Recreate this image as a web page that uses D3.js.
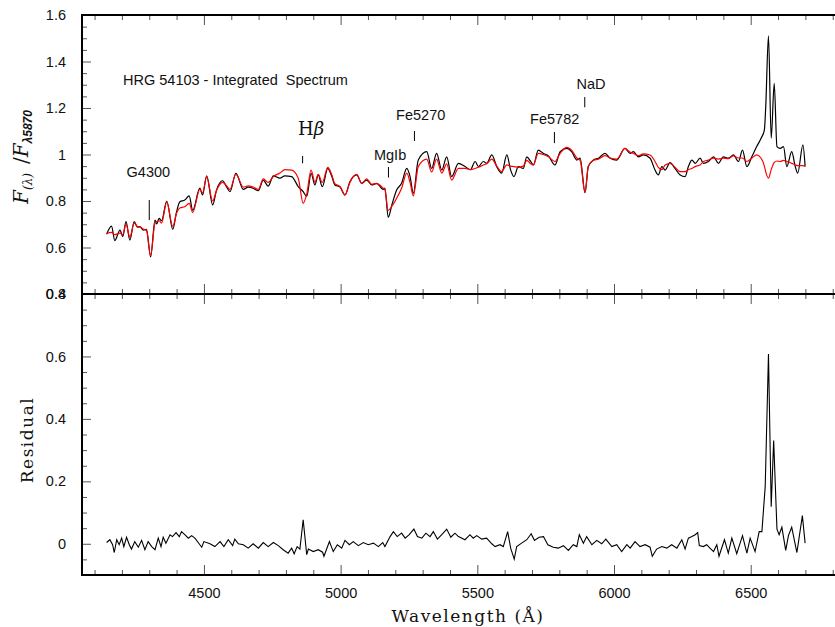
<!DOCTYPE html>
<html>
<head>
<meta charset="utf-8">
<script src="https://cdn.jsdelivr.net/npm/d3@7"></script>
<style>
  body { margin: 0; background: #fff; }
  text { font-family: "Liberation Sans", Arial, sans-serif; fill: #111; }
</style>
</head>
<body>
<svg id="chart"></svg>
<script>
// wavelengths (A) of the points
const waveUpper = [4144, 4162, 4174, 4193, 4203, 4215, 4229, 4245, 4257, 4266, 4278, 4290, 4305, 4321, 4327, 4336, 4345, 4364, 4386, 4400,
  4412, 4430, 4446, 4459, 4485, 4495, 4510, 4532, 4546, 4568, 4583, 4595, 4617, 4644, 4662, 4680, 4699, 4717, 4735, 4754,
  4778, 4796, 4821, 4845, 4863, 4876, 4892, 4906, 4918, 4933, 4953, 4967, 4979, 4998, 5016, 5034, 5059, 5077, 5095, 5114,
  5132, 5156, 5162, 5174, 5189, 5205, 5223, 5242, 5254, 5266, 5284, 5315, 5333, 5351, 5370, 5388, 5406, 5431, 5455, 5475,
  5492, 5504, 5522, 5534, 5553, 5571, 5589, 5608, 5622, 5634, 5650, 5668, 5681, 5695, 5705, 5723, 5741, 5760, 5784, 5803,
  5827, 5845, 5864, 5876, 5894, 5906, 5925, 5943, 5967, 5986, 6010, 6040, 6059, 6071, 6089, 6107, 6132, 6150, 6162, 6175,
  6187, 6205, 6223, 6242, 6260, 6272, 6285, 6297, 6315, 6327, 6345, 6364, 6382, 6400, 6418, 6437, 6455, 6470, 6486, 6504,
  6522, 6538, 6550, 6555, 6565, 6575, 6586, 6596, 6608, 6620, 6632, 6650, 6663, 6672, 6691, 6699];

// observed spectrum (black)
const obsFlux = [0.657, 0.692, 0.630, 0.675, 0.647, 0.711, 0.632, 0.711, 0.687, 0.690, 0.675, 0.678, 0.560, 0.718, 0.701, 0.725, 0.715, 0.800, 0.678, 0.754,
  0.797, 0.804, 0.822, 0.760, 0.855, 0.826, 0.908, 0.783, 0.847, 0.887, 0.861, 0.840, 0.919, 0.850, 0.860, 0.855, 0.844, 0.890, 0.864, 0.908,
  0.898, 0.908, 0.905, 0.862, 0.840, 0.820, 0.919, 0.869, 0.912, 0.862, 0.940, 0.908, 0.869, 0.860, 0.826, 0.883, 0.912, 0.876, 0.890, 0.869,
  0.876, 0.850, 0.855, 0.730, 0.790, 0.847, 0.876, 0.940, 0.905, 0.833, 0.976, 1.012, 0.940, 1.005, 0.933, 0.990, 0.905, 0.962, 0.948, 0.935,
  0.970, 0.948, 0.970, 0.962, 0.998, 0.948, 0.920, 0.998, 0.933, 0.905, 0.948, 0.940, 0.990, 0.970, 0.955, 1.019, 1.005, 0.994, 0.955, 1.012,
  1.026, 1.012, 0.976, 0.984, 0.836, 0.948, 0.976, 0.984, 1.005, 0.984, 0.976, 1.026, 1.005, 1.012, 0.990, 0.998, 0.984, 0.933, 0.912, 0.948,
  0.933, 0.965, 0.940, 0.912, 0.905, 0.948, 0.976, 0.962, 0.984, 0.962, 0.970, 0.990, 0.962, 0.990, 0.984, 0.998, 0.970, 1.019, 0.948, 0.990,
  1.034, 1.070, 1.105, 1.206, 1.510, 1.070, 1.306, 1.034, 1.026, 1.034, 0.948, 1.012, 0.948, 0.920, 1.041, 0.948];

// model spectrum (red)
const modelFlux = [0.660, 0.665, 0.655, 0.662, 0.655, 0.700, 0.645, 0.705, 0.690, 0.688, 0.680, 0.672, 0.565, 0.705, 0.712, 0.715, 0.705, 0.795, 0.690, 0.748,
  0.770, 0.775, 0.790, 0.750, 0.850, 0.835, 0.905, 0.800, 0.845, 0.880, 0.865, 0.850, 0.915, 0.860, 0.865, 0.860, 0.850, 0.895, 0.880, 0.905,
  0.920, 0.935, 0.933, 0.898, 0.790, 0.830, 0.933, 0.880, 0.915, 0.880, 0.945, 0.915, 0.875, 0.862, 0.826, 0.880, 0.915, 0.875, 0.895, 0.872,
  0.875, 0.855, 0.848, 0.760, 0.780, 0.812, 0.855, 0.920, 0.880, 0.822, 0.948, 0.980, 0.925, 0.980, 0.920, 0.960, 0.890, 0.940, 0.940, 0.935,
  0.940, 0.945, 0.955, 0.960, 0.980, 0.950, 0.926, 0.955, 0.950, 0.948, 0.945, 0.950, 0.975, 0.960, 0.955, 1.005, 1.000, 0.990, 0.970, 1.005,
  1.031, 1.019, 0.985, 0.975, 0.836, 0.950, 0.975, 0.980, 0.995, 0.985, 0.980, 1.026, 1.010, 1.005, 0.995, 1.003, 0.998, 0.970, 0.945, 0.935,
  0.955, 0.962, 0.945, 0.926, 0.926, 0.935, 0.940, 0.948, 0.955, 0.970, 0.976, 0.984, 0.980, 0.984, 0.982, 0.994, 0.985, 0.985, 0.970, 0.984,
  0.998, 0.984, 0.950, 0.925, 0.898, 0.935, 0.965, 0.972, 0.970, 0.975, 0.970, 0.962, 0.955, 0.952, 0.952, 0.950];

// residual (lower panel)
const waveResid = [4144, 4156, 4166, 4172, 4181, 4190, 4199, 4207, 4217, 4227, 4235, 4247, 4260, 4272, 4284, 4296, 4309, 4321, 4333, 4343,
  4351, 4361, 4376, 4385, 4398, 4410, 4418, 4430, 4443, 4455, 4467, 4479, 4492, 4500, 4522, 4540, 4559, 4573, 4589, 4605,
  4613, 4626, 4644, 4662, 4680, 4699, 4717, 4735, 4754, 4772, 4790, 4808, 4821, 4830, 4841, 4851, 4863, 4876, 4882, 4900,
  4918, 4934, 4939, 4959, 4973, 4988, 5004, 5016, 5032, 5046, 5065, 5083, 5101, 5120, 5138, 5154, 5162, 5181, 5193, 5207,
  5223, 5236, 5251, 5268, 5281, 5297, 5312, 5327, 5339, 5354, 5370, 5388, 5403, 5418, 5431, 5455, 5473, 5485, 5498, 5516,
  5534, 5553, 5565, 5583, 5595, 5611, 5622, 5635, 5644, 5662, 5681, 5697, 5709, 5726, 5742, 5758, 5778, 5796, 5815, 5833,
  5851, 5864, 5873, 5888, 5900, 5919, 5937, 5955, 5970, 5992, 6010, 6028, 6047, 6059, 6077, 6095, 6114, 6132, 6140, 6156,
  6175, 6193, 6211, 6230, 6248, 6260, 6272, 6285, 6297, 6306, 6312, 6327, 6339, 6351, 6364, 6376, 6384, 6404, 6418, 6431,
  6449, 6470, 6486, 6498, 6516, 6531, 6541, 6553, 6565, 6575, 6584, 6596, 6604, 6614, 6628, 6638, 6650, 6669, 6689, 6699];
const residFlux = [0.004, 0.013, -0.003, -0.028, 0.013, -0.003, 0.018, -0.009, 0.021, -0.003, -0.017, 0.007, -0.011, 0.011, -0.019, 0.007, -0.009, -0.019, 0.018, -0.009,
  0.021, 0.002, 0.029, 0.023, 0.036, 0.023, 0.039, 0.029, 0.018, 0.026, 0.018, 0.004, -0.011, 0.007, 0.000, -0.009, 0.007, -0.009, 0.013, -0.006,
  0.015, 0.000, -0.003, -0.014, 0.000, -0.014, 0.004, -0.009, 0.004, -0.006, -0.019, -0.030, -0.014, -0.032, -0.009, -0.017, 0.077, -0.035, -0.017, -0.025,
  -0.019, -0.027, -0.040, 0.007, -0.025, -0.003, -0.014, 0.011, -0.003, 0.007, -0.006, 0.004, -0.003, 0.002, -0.009, 0.004, -0.009, 0.023, 0.039, 0.023,
  0.034, 0.018, 0.029, 0.047, 0.023, 0.018, 0.034, 0.023, 0.039, 0.015, 0.029, 0.047, 0.021, 0.034, 0.023, 0.013, 0.029, 0.018, 0.026, 0.015,
  0.018, 0.000, -0.009, -0.003, -0.009, 0.039, -0.014, -0.049, -0.009, 0.002, 0.013, 0.032, 0.011, 0.021, 0.023, -0.003, -0.011, -0.014, -0.006, -0.021,
  -0.003, -0.009, 0.029, 0.002, 0.023, -0.003, 0.011, 0.000, 0.015, -0.009, -0.003, -0.025, -0.003, -0.014, 0.007, -0.009, -0.003, -0.011, -0.040, -0.017,
  -0.009, -0.014, -0.003, -0.014, 0.013, -0.017, 0.018, 0.023, 0.029, 0.036, -0.006, -0.009, -0.003, -0.014, -0.025, -0.003, -0.040, 0.013, -0.030, 0.018,
  -0.032, 0.026, -0.030, 0.018, -0.025, 0.039, 0.039, 0.183, 0.608, 0.119, 0.331, 0.047, 0.029, 0.053, -0.021, 0.026, 0.053, -0.028, 0.090, 0.002];

// index lines: name, line wavelength, marker flux range, label position (wavelength, flux)
const lineNames = ['G4300', 'Hβ', 'MgIb', 'Fe5270', 'Fe5782', 'NaD'];
const lineWave = [4300, 4861, 5175, 5270, 5782, 5893];
const markerLow = [0.718, 0.962, 0.901, 1.058, 1.049, 1.203];
const markerHigh = [0.804, 0.994, 0.946, 1.101, 1.097, 1.247];
const labelWave = [4217, 4844, 5122, 5203, 5693, 5863];
const labelFlux = [0.903, 1.084, 0.978, 1.148, 1.131, 1.280];

const upperTicks = [0.4, 0.6, 0.8, 1, 1.2, 1.4, 1.6];
const lowerTicks = [0, 0.2, 0.4, 0.6, 0.8];
const xTickValues = [4500, 5000, 5500, 6000, 6500];

const width = 835, height = 627;
const padLeft = 82, padRight = 836, yTopEdge = 15, yMid = 294, yBottomEdge = 575;

const svg = d3.select('#chart').attr('width', width).attr('height', height);
svg.append('rect').attr('width', width).attr('height', height).attr('fill', '#fff');

const x = d3.scaleLinear().domain([4054, 6812]).range([padLeft, padRight]);
const yUp = d3.scaleLinear().domain([0.4, 1.6]).range([yMid, yTopEdge]);
const yLo = d3.scaleLinear().domain([-0.1, 0.8]).range([yBottomEdge, yMid]);

const xMinor = d3.range(41, 69).map(i => i * 100).filter(v => v % 500 !== 0);
const upMinor = d3.range(8, 33).filter(i => i % 4 !== 0).map(i => i * 0.05);
const loMinor = d3.range(-2, 17).filter(i => i % 4 !== 0).map(i => i * 0.05);

function tickGroup(axis, tx, ty) {
    const g = svg.append('g').attr('transform', `translate(${tx},${ty})`).call(axis);
    g.select('.domain').remove();
    g.selectAll('line').attr('stroke', '#555').attr('stroke-width', 1);
    return g;
}

// x ticks, all pointing into the panels
[[d3.axisBottom, yTopEdge], [d3.axisTop, yMid], [d3.axisBottom, yMid], [d3.axisTop, yBottomEdge]].forEach(([fn, yy]) => {
    tickGroup(fn(x).tickValues(xTickValues).tickSize(10).tickFormat(''), 0, yy);
    tickGroup(fn(x).tickValues(xMinor).tickSize(5).tickFormat(''), 0, yy);
});
// y ticks
tickGroup(d3.axisRight(yUp).tickValues(upperTicks).tickSize(9).tickFormat(''), padLeft, 0);
tickGroup(d3.axisRight(yUp).tickValues(upMinor).tickSize(5).tickFormat(''), padLeft, 0);
tickGroup(d3.axisRight(yLo).tickValues(lowerTicks).tickSize(9).tickFormat(''), padLeft, 0);
tickGroup(d3.axisRight(yLo).tickValues(loMinor).tickSize(5).tickFormat(''), padLeft, 0);

// tick labels
function labelGroup(axis, tx, ty) {
    const g = svg.append('g').attr('transform', `translate(${tx},${ty})`).call(axis);
    g.select('.domain').remove();
    g.selectAll('line').remove();
    g.selectAll('text').style('font-family', '"Liberation Sans", Arial, sans-serif').style('font-size', '14.5px').attr('fill', '#111');
    return g;
}
labelGroup(d3.axisBottom(x).tickValues(xTickValues).tickSize(0).tickPadding(13).tickFormat(d3.format('d')), 0, yBottomEdge);
labelGroup(d3.axisLeft(yUp).tickValues(upperTicks).tickSize(0).tickPadding(16).tickFormat(d3.format('~g')), padLeft, 0);
labelGroup(d3.axisLeft(yLo).tickValues(lowerTicks).tickSize(0).tickPadding(16).tickFormat(d3.format('~g')), padLeft, 0);

// spectra
const lineUp = (vals) => d3.line()
    .x((d, i) => x(waveUpper[i]))
    .y(d => yUp(d))
    .curve(d3.curveMonotoneX)(vals);

svg.append('path').attr('d', lineUp(obsFlux))
    .attr('fill', 'none').attr('stroke', '#000').attr('stroke-width', 1.2);
svg.append('path').attr('d', lineUp(modelFlux))
    .attr('fill', 'none').attr('stroke', '#f00').attr('stroke-width', 1.2);

const lineLo = d3.line()
    .x((d, i) => x(waveResid[i]))
    .y(d => yLo(d));
svg.append('path').attr('d', lineLo(residFlux))
    .attr('fill', 'none').attr('stroke', '#000').attr('stroke-width', 1.1);

// index markers and names
lineNames.forEach((name, i) => {
    svg.append('line')
        .attr('x1', x(lineWave[i])).attr('x2', x(lineWave[i]))
        .attr('y1', yUp(markerLow[i])).attr('y2', yUp(markerHigh[i]))
        .attr('stroke', '#000').attr('stroke-width', 1);
    const t = svg.append('text')
        .attr('x', x(labelWave[i])).attr('y', yUp(labelFlux[i]))
        .style('font-size', '14.5px');
    if (name === 'Hβ') {
        t.style('font-family', '"DejaVu Serif", serif').style('font-size', '18px');
        t.append('tspan').text('H');
        t.append('tspan').text('β').style('font-style', 'italic');
    } else {
        t.text(name);
    }
});

svg.append('text')
    .attr('x', x(4204)).attr('y', yUp(1.299))
    .style('font-size', '14.5px').style('white-space', 'pre')
    .text('HRG 54103 - Integrated  Spectrum');

// frames
svg.append('rect').attr('x', padLeft).attr('y', yTopEdge).attr('width', padRight - padLeft).attr('height', yMid - yTopEdge)
    .attr('fill', 'none').attr('stroke', '#000').attr('stroke-width', 2);
svg.append('rect').attr('x', padLeft).attr('y', yMid).attr('width', padRight - padLeft).attr('height', yBottomEdge - yMid)
    .attr('fill', 'none').attr('stroke', '#000').attr('stroke-width', 2);

// axis titles
svg.append('text')
    .attr('transform', `translate(468,622)`)
    .attr('text-anchor', 'middle')
    .style('font-family', '"DejaVu Serif", serif').style('font-size', '17px').style('letter-spacing', '1.5px')
    .text('Wavelength (Å)');

svg.append('text')
    .attr('transform', `translate(33,440) rotate(-90)`)
    .attr('text-anchor', 'middle')
    .style('font-family', '"DejaVu Serif", serif').style('font-size', '17px').style('letter-spacing', '1.5px')
    .text('Residual');

const yl = svg.append('text')
    .attr('transform', `translate(28,157) rotate(-90)`)
    .attr('text-anchor', 'middle')
    .style('font-family', '"DejaVu Serif", serif');
yl.append('tspan').text('F').style('font-style', 'italic').style('font-size', '20px');
yl.append('tspan').text('(λ)').style('font-style', 'italic').style('font-size', '12px').attr('dy', 4);
yl.append('tspan').text('/').style('font-size', '20px').attr('dy', -4).attr('dx', 9);
yl.append('tspan').text('F').style('font-style', 'italic').style('font-size', '20px');
yl.append('tspan').text('λ5870')
    .style('font-family', '"Liberation Sans", Arial, sans-serif')
    .style('font-style', 'italic').style('font-weight', 'bold').style('font-size', '12px').attr('dy', 4);
</script>
</body>
</html>
